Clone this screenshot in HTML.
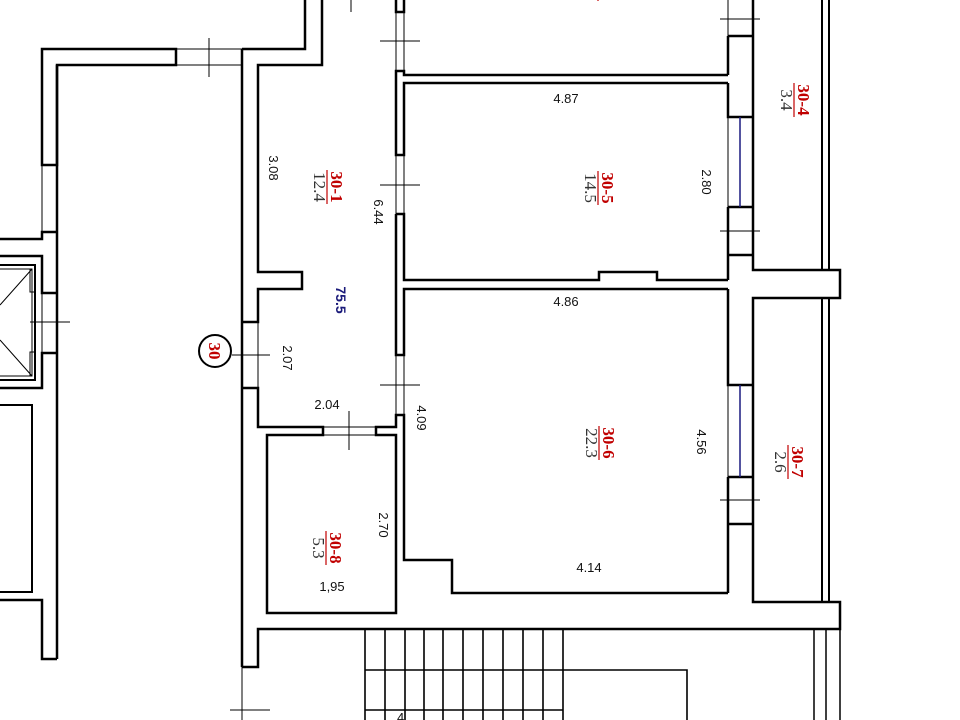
<!DOCTYPE html>
<html><head><meta charset="utf-8"><style>
html,body{margin:0;padding:0;background:#fff;width:960px;height:720px;overflow:hidden}
svg{display:block}
.w{fill:none;stroke:#000;stroke-width:2.5;stroke-linejoin:miter}
.t{fill:none;stroke:#000;stroke-width:1}
.b{fill:none;stroke:#1a1a80;stroke-width:1.5}
.d{font-family:"Liberation Sans",sans-serif;font-size:13px;fill:#111}
.r{font-family:"Liberation Serif",serif;font-size:17px;font-weight:bold;fill:#c00000}
.g{font-family:"Liberation Serif",serif;font-size:17px;fill:#333}
</style></head><body>
<svg width="960" height="720" viewBox="0 0 960 720" xmlns="http://www.w3.org/2000/svg">
<rect width="960" height="720" fill="#fff"/>
<path class="w" d="M176,49 H42 V165 H57 V65 H176 Z"/>
<path class="t" d="M42,165 V232 M57,165 V232 M176,49 H242 M176,65 H242"/>
<path class="w" d="M0,239 H42 V232 H57 M0,256 H42 V293 H57 M57,353 H42 V388 H0 M57,65 V659 M0,600 H42 V659 H57"/>
<path class="t" d="M42,293 V353"/>
<rect x="-2" y="265" width="37" height="115" class="w" style="stroke-width:2"/>
<rect x="-2" y="269" width="34" height="107" class="t"/>
<path class="t" d="M32,269 L0,305 M32,376 L0,340 M30,269 V292 H35 M30,376 V352 H35"/>
<rect x="-2" y="405" width="34" height="187" class="w" style="stroke-width:2"/>
<path class="w" d="M242,49 V667 M242,49 H305 V0 M322,0 V65 H258 V272 H302 V289 H258 V322 H242"/>
<path class="t" d="M258,322 V388 M242,667 V720"/>
<path class="w" d="M242,388 H258 V427 H323 V435 H267 V613 H396 V435 H376 V427 H396 V415 H404 V560 H452 V593 H728"/>
<path class="t" d="M323,427 H376 M323,435 H376"/>
<path class="w" d="M396,0 V12 H404 V0 M728,75 H404 V71 H396 V155 H404 V83 H728 M396,214 V355 H404 V289 H728 M396,214 H404 V280 H599 V272 H657 V280 H728"/>
<path class="t" d="M396,12 V71 M404,12 V71 M396,155 V214 M404,155 V214 M396,355 V415 M404,355 V415"/>
<path class="w" d="M753,0 V270 H840 V298 H753 V602 H840 V629 H258 V667 H242"/>
<path class="w" d="M728,36 H753 M728,36 V75 M728,83 V117 H753 M728,207 H753 M728,207 V280 M728,255 H753 M728,289 V385 H753 M728,477 H753 M728,477 V593 M728,524 H753"/>
<path class="t" d="M728,0 V36 M728,117 V207 M728,385 V477"/>
<path class="b" d="M740,117 V207 M740,385 V477"/>
<path class="w" style="stroke-width:2" d="M822,0 V270 M829,0 V270 M822,298 V602 M829,298 V602"/>
<path class="w" style="stroke-width:1.5" d="M814,629 V720 M826,629 V720 M840,629 V720"/>
<path class="w" style="stroke-width:1.6" d="M365,629 V720 M385,629 V720 M405,629 V720 M424,629 V720 M443,629 V720 M463,629 V720 M483,629 V720 M503,629 V720 M523,629 V720 M543,629 V720 M563,629 V720 M365,670 H687 V720 M365,710 H563"/>
<text x="397" y="722" class="d" font-size="14">4</text>
<path class="t" d="M209,38 V77 M380,41 H420 M380,185 H420 M380,385 H420 M349,411 V450 M232,355 H270 M720,19 H760 M720,231 H760 M720,500 H760 M230,710 H270 M30,322 H70 M351,0 V12"/>
<circle cx="215" cy="351" r="16" fill="#fff" stroke="#000" stroke-width="2"/>
<text transform="translate(215,351) rotate(90)" x="0" y="6" text-anchor="middle" class="r">30</text>
<g class="d" text-anchor="middle">
<text transform="translate(273,168) rotate(90)" y="4">3.08</text>
<text transform="translate(378,212) rotate(90)" y="4">6.44</text>
<text transform="translate(287,358) rotate(90)" y="4">2.07</text>
<text transform="translate(421,418) rotate(90)" y="4">4.09</text>
<text transform="translate(383,525) rotate(90)" y="4">2.70</text>
<text transform="translate(706,182) rotate(90)" y="4">2.80</text>
<text transform="translate(701,442) rotate(90)" y="4">4.56</text>
<text x="327" y="409">2.04</text>
<text x="332" y="591">1,95</text>
<text x="566" y="103">4.87</text>
<text x="566" y="306">4.86</text>
<text x="589" y="572">4.14</text>
</g>
<text transform="translate(341,300) rotate(90)" y="5" text-anchor="middle" style="font-family:'Liberation Sans',sans-serif;font-size:14px;font-weight:bold;fill:#1a1a7a">75.5</text>
<g text-anchor="middle">
<g transform="translate(327,187) rotate(90)"><text class="r" y="-4">30-1</text><line x1="-17" x2="17" y1="0" y2="0" stroke="#c00000" stroke-width="1.2"/><text class="g" y="13">12.4</text></g>
<g transform="translate(598,188) rotate(90)"><text class="r" y="-4">30-5</text><line x1="-17" x2="17" y1="0" y2="0" stroke="#c00000" stroke-width="1.2"/><text class="g" y="13">14.5</text></g>
<g transform="translate(599,443) rotate(90)"><text class="r" y="-4">30-6</text><line x1="-17" x2="17" y1="0" y2="0" stroke="#c00000" stroke-width="1.2"/><text class="g" y="13">22.3</text></g>
<g transform="translate(326,548) rotate(90)"><text class="r" y="-4">30-8</text><line x1="-17" x2="17" y1="0" y2="0" stroke="#c00000" stroke-width="1.2"/><text class="g" y="13">5.3</text></g>
<g transform="translate(794,100) rotate(90)"><text class="r" y="-4">30-4</text><line x1="-17" x2="17" y1="0" y2="0" stroke="#c00000" stroke-width="1.2"/><text class="g" y="13">3.4</text></g>
<g transform="translate(788,462) rotate(90)"><text class="r" y="-4">30-7</text><line x1="-17" x2="17" y1="0" y2="0" stroke="#c00000" stroke-width="1.2"/><text class="g" y="13">2.6</text></g>
<g transform="translate(598,-16) rotate(90)"><text class="r" y="-4">30-3</text><line x1="-17" x2="17" y1="0" y2="0" stroke="#c00000" stroke-width="1.2"/><text class="g" y="13">17</text></g>
</g>
</svg>
</body></html>
